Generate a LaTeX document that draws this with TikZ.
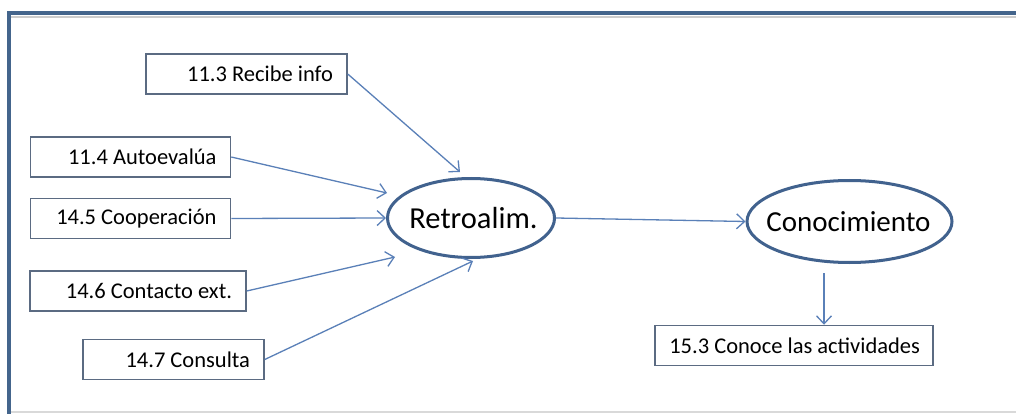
\documentclass[tikz,border=0pt]{standalone}
\usepackage{fontspec}
\setmainfont{Carlito}
\usetikzlibrary{shapes.geometric,arrows.meta}
\definecolor{framec}{HTML}{44658C}
\definecolor{boxc}{HTML}{5B6B82}
\definecolor{arrc}{HTML}{5A80B8}
\definecolor{ellc}{HTML}{41628E}
\tikzset{
  box/.style={draw=boxc, line width=1.5pt, rectangle, inner xsep=14pt, inner ysep=0pt,
    minimum height=40pt, align=flush right, font=\fontsize{22.5}{24}\selectfont},
  oval/.style={draw=ellc, line width=3pt, ellipse, inner sep=0pt, font=\fontsize{29}{32}\selectfont},
  conn/.style={draw=arrc, line width=1.3pt, -{Straight Barb[length=8pt,width=15pt]}},
  framel/.style={draw=framec, line width=4pt}
}
\begin{document}
\begin{tikzpicture}[x=1pt,y=-1pt]
\useasboundingbox (0,0) rectangle (1016,414);
\fill[white] (0,0) rectangle (1016,414);
\draw[gray!30, line width=2pt] (9,412) -- (1016,412);
\draw[gray!40, line width=1.5pt] (11,17) -- (1016,17);
\draw[framel] (9,414) -- (9,13) -- (1016,13);

\node[box, text width=173pt] (b113) at (246.5,74) {11.3 Recibe info};
\node[box, text width=172pt] (b114) at (130.5,157) {11.4 Autoevalúa};
\node[box, text width=172pt] (b145) at (130.5,218.5) {14.5 Cooperación};
\node[box, text width=188pt] (b146) at (138,291) {14.6 Contacto ext.};
\node[box, text width=153pt] (b147) at (173.5,359.5) {14.7 Consulta};
\node[box, text width=252pt, inner xsep=13pt] (b153) at (794,345.5) {15.3 Conoce las actividades};

\node[oval, minimum width=167pt, minimum height=79pt, font=\fontsize{30.5}{32}\selectfont] (retro) at (471,218) {\makebox[0pt]{\hspace{5pt}Retroalim.}};
\node[oval, minimum width=205pt, minimum height=82pt] (cono) at (849.5,221.5) {\makebox[0pt]{\hspace{-2pt}Conocimiento}};

\coordinate (e113) at (460,172);
\coordinate (e114) at (387,193);
\coordinate (e146) at (395,257);
\coordinate (e147) at (473,261);
\coordinate (s153) at (824,273);

\draw[conn] (b113.east) -- (e113);
\draw[conn] (b114.east) -- (e114);
\draw[conn] (b145.east) -- (retro.west);
\draw[conn] (b146.east) -- (e146);
\draw[conn] (b147.east) -- (e147);
\draw[conn] (retro.east) -- (cono.west);
\draw[conn] (s153) -- (s153 |- b153.north);
\end{tikzpicture}
\end{document}
